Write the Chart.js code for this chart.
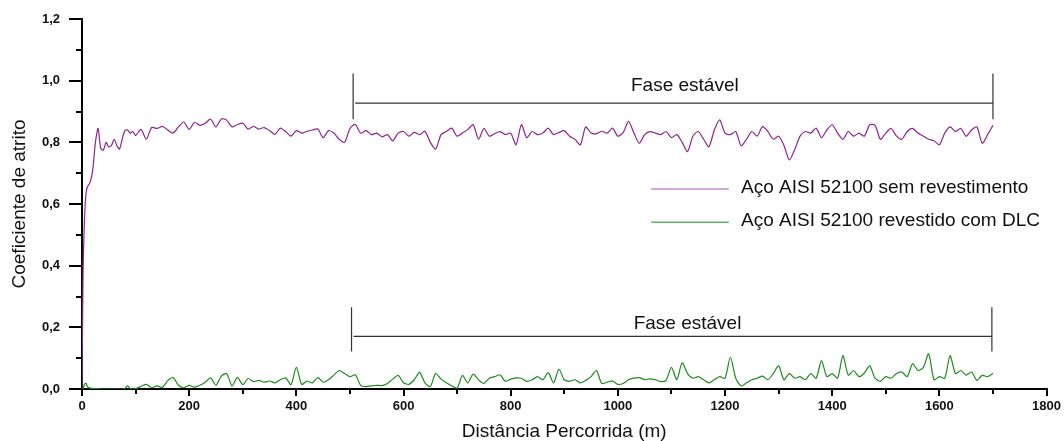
<!DOCTYPE html>
<html><head><meta charset="utf-8">
<script src="https://cdn.jsdelivr.net/npm/chart.js@4.4.1/dist/chart.umd.min.js"></script>
<style>html,body{margin:0;padding:0;background:#fff;}#wrap{width:1064px;height:441px;position:relative;}</style>
</head><body><div id="wrap"><canvas id="c"></canvas></div>
<script>
// Distance (m)
const distance = [0,2,4,6,8,10,15,20,25,30,35,40,45,50,55,60,65,70,75,80,85,90,95,100,
110,120,130,140,150,160,170,180,190,200,210,220,230,240,250,260,270,280,290,300,
310,320,330,340,350,360,370,380,390,400,410,420,430,440,450,460,470,480,490,500,
510,520,530,540,550,560,570,580,590,600,610,620,630,640,650,660,670,680,690,700,
710,720,730,740,750,760,770,780,790,800,810,820,830,840,850,860,870,880,890,900,
910,920,930,940,950,960,970,980,990,1000,1010,1020,1030,1040,1050,1060,1070,1080,1090,1100,
1110,1120,1130,1140,1150,1160,1170,1180,1190,1200,1210,1220,1230,1240,1250,1260,1270,1280,1290,1300,
1310,1320,1330,1340,1350,1360,1370,1380,1390,1400,1410,1420,1430,1440,1450,1460,1470,1480,1490,1500,
1510,1520,1530,1540,1550,1560,1570,1580,1590,1600,1610,1620,1630,1640,1650,1660,1670,1680,1690,1700];

// Coefficient of friction, uncoated AISI 52100
const cofUncoated = [0.0,0.38,0.52,0.60,0.64,0.655,0.67,0.71,0.80,0.845,0.78,0.775,0.80,0.785,0.79,0.81,0.79,0.778,0.81,0.838,0.84,0.83,0.835,0.822,
0.842,0.81,0.848,0.845,0.852,0.84,0.83,0.85,0.866,0.842,0.865,0.855,0.862,0.875,0.85,0.876,0.872,0.85,0.858,0.862,
0.843,0.852,0.843,0.848,0.838,0.826,0.846,0.835,0.82,0.838,0.83,0.836,0.84,0.843,0.815,0.838,0.83,0.81,0.80,0.845,
0.858,0.83,0.838,0.825,0.83,0.818,0.825,0.805,0.83,0.835,0.82,0.832,0.825,0.836,0.80,0.778,0.825,0.835,0.846,0.82,
0.83,0.842,0.857,0.81,0.845,0.82,0.828,0.835,0.825,0.83,0.792,0.857,0.815,0.835,0.825,0.83,0.846,0.825,0.832,0.838,
0.82,0.81,0.792,0.85,0.83,0.828,0.836,0.83,0.846,0.82,0.832,0.868,0.83,0.797,0.825,0.835,0.83,0.825,0.835,0.815,
0.825,0.80,0.77,0.82,0.835,0.81,0.786,0.84,0.873,0.83,0.825,0.835,0.789,0.81,0.835,0.82,0.851,0.835,0.81,0.82,
0.79,0.743,0.776,0.82,0.835,0.83,0.846,0.815,0.84,0.857,0.83,0.81,0.835,0.82,0.83,0.82,0.857,0.855,0.81,0.83,
0.845,0.82,0.81,0.835,0.845,0.83,0.82,0.81,0.805,0.792,0.83,0.85,0.835,0.845,0.82,0.84,0.85,0.797,0.825,0.855];

// Coefficient of friction, DLC-coated AISI 52100
const cofDLC = [0.0,0.0,0.012,0.018,0.018,0.008,0.003,0.002,0.001,0.001,0.0,0.0,0.0,0.0,0.0,0.0,0.0,0.0,0.0,0.002,0.011,0.002,0.0,0.001,
0.008,0.015,0.004,0.01,0.005,0.027,0.037,0.012,0.004,0.012,0.006,0.012,0.022,0.036,0.012,0.042,0.05,0.01,0.038,0.014,
0.034,0.024,0.028,0.022,0.026,0.02,0.03,0.036,0.014,0.07,0.015,0.026,0.02,0.037,0.022,0.03,0.045,0.06,0.05,0.04,
0.046,0.012,0.008,0.01,0.012,0.011,0.018,0.032,0.044,0.02,0.015,0.03,0.054,0.02,0.008,0.05,0.032,0.02,0.01,0.003,
0.044,0.02,0.048,0.03,0.018,0.035,0.04,0.046,0.025,0.032,0.036,0.035,0.025,0.03,0.04,0.03,0.053,0.02,0.064,0.03,
0.025,0.03,0.02,0.028,0.04,0.06,0.018,0.022,0.026,0.015,0.018,0.03,0.035,0.037,0.03,0.033,0.03,0.024,0.028,0.07,
0.03,0.085,0.05,0.035,0.04,0.03,0.02,0.03,0.04,0.035,0.103,0.035,0.01,0.02,0.03,0.035,0.042,0.03,0.05,0.075,
0.03,0.05,0.035,0.04,0.03,0.05,0.035,0.092,0.04,0.05,0.035,0.108,0.045,0.06,0.04,0.052,0.075,0.035,0.025,0.04,
0.035,0.05,0.055,0.04,0.082,0.06,0.07,0.114,0.03,0.04,0.035,0.108,0.05,0.06,0.045,0.055,0.028,0.044,0.04,0.05];

const seriesLabels = ['Aço AISI 52100 sem revestimento', 'Aço AISI 52100 revestido com DLC'];
const xMinorTicks = [100,300,500,700,900,1100,1300,1500,1700];
const yMinorTicks = [0.1,0.3,0.5,0.7,0.9,1.1];
const phaseLabel = 'Fase estável';

const brackets = [
  {from:506, to:1700, top:1.023, bottom:0.875, bar:0.927, textX:1125, textY:0.982},
  {from:503, to:1698, top:0.265, bottom:0.122, bar:0.171, textX:1130, textY:0.212}
];
const legendPos = {x0:1062, x1:1207, xt:1230, y:[0.649, 0.541]};

const lineColors = ['#8e248e', '#1e8a1e'];
const legendColors = ['#c48ac8', '#5cb85c'];

const FONT = '"Liberation Sans", Arial, sans-serif';

const overlay = {
  id:'overlay',
  afterDraw(chart){
    const {ctx, scales:{x, y}, chartArea:ca} = chart;
    ctx.save();
    // minor ticks
    ctx.strokeStyle = '#000'; ctx.lineWidth = 2;
    yMinorTicks.forEach(v => { const py = Math.round(y.getPixelForValue(v));
      ctx.beginPath(); ctx.moveTo(ca.left - 6, py); ctx.lineTo(ca.left, py); ctx.stroke(); });
    xMinorTicks.forEach(v => { const px = Math.round(x.getPixelForValue(v));
      ctx.beginPath(); ctx.moveTo(px, ca.bottom); ctx.lineTo(px, ca.bottom + 5); ctx.stroke(); });
    // brackets
    ctx.strokeStyle = '#333'; ctx.lineWidth = 1.2;
    brackets.forEach(b => {
      const xl = x.getPixelForValue(b.from), xr = x.getPixelForValue(b.to);
      const yt = y.getPixelForValue(b.top), yb = y.getPixelForValue(b.bottom), yh = y.getPixelForValue(b.bar);
      ctx.beginPath();
      ctx.moveTo(xl, yt); ctx.lineTo(xl, yb);
      ctx.moveTo(xr, yt); ctx.lineTo(xr, yb);
      ctx.moveTo(xl + 2, yh); ctx.lineTo(xr, yh);
      ctx.stroke();
      ctx.fillStyle = '#111'; ctx.font = '19px ' + FONT; ctx.textAlign = 'center'; ctx.textBaseline = 'middle';
      ctx.fillText(phaseLabel, x.getPixelForValue(b.textX), y.getPixelForValue(b.textY));
    });
    // legend
    seriesLabels.forEach((lab, i) => {
      const py = y.getPixelForValue(legendPos.y[i]);
      ctx.strokeStyle = legendColors[i]; ctx.lineWidth = 1.5;
      ctx.beginPath(); ctx.moveTo(x.getPixelForValue(legendPos.x0), py); ctx.lineTo(x.getPixelForValue(legendPos.x1), py); ctx.stroke();
      ctx.fillStyle = '#111'; ctx.font = '19px ' + FONT; ctx.textAlign = 'left'; ctx.textBaseline = 'middle';
      ctx.fillText(lab, x.getPixelForValue(legendPos.xt), py - 1);
    });
    ctx.restore();
  }
};

const tickFont = {family: FONT, size: 13, weight: 'bold'};

new Chart(document.getElementById('c'), {
  type: 'line',
  data: {
    datasets: [
      {label: seriesLabels[0], data: distance.map((d,i)=>({x:d, y:cofUncoated[i]})), borderColor: lineColors[0], borderWidth: 1.2, pointRadius: 0, tension: 0.25, fill:false},
      {label: seriesLabels[1], data: distance.map((d,i)=>({x:d, y:cofDLC[i]})), borderColor: lineColors[1], borderWidth: 1.2, pointRadius: 0, tension: 0.25, fill:false}
    ]
  },
  options: {
    responsive: true, maintainAspectRatio: false, animation: false,
    layout: {padding: {top: 19, right: 16, left: 0, bottom: 0}},
    plugins: {legend: {display: false}, tooltip: {enabled: false}},
    scales: {
      x: {
        type: 'linear', min: 0, max: 1800,
        border: {display: true, color: '#000', width: 2},
        grid: {display: true, drawOnChartArea: false, drawTicks: true, tickLength: 7, color: '#000', lineWidth: 2},
        ticks: {stepSize: 200, color: '#111', font: tickFont, padding: 3, maxRotation: 0, autoSkip: false, callback: v => String(v)},
        title: {display: true, text: 'Distância Percorrida (m)', color: '#111', font: {family: FONT, size: 19, lineHeight: 1}, padding: {top: 0, bottom: 0}},
        afterFit: s => { s.height = 52; }
      },
      y: {
        type: 'linear', min: 0, max: 1.2,
        border: {display: true, color: '#000', width: 2},
        grid: {display: true, drawOnChartArea: false, drawTicks: true, tickLength: 13, color: '#000', lineWidth: 2},
        ticks: {stepSize: 0.2, color: '#111', font: tickFont, padding: 9, callback: v => v.toFixed(1).replace('.', ',')},
        title: {display: true, text: 'Coeficiente de atrito', color: '#111', font: {family: FONT, size: 19, lineHeight: 1}, padding: {top: 10, bottom: 0}},
        afterFit: s => { s.width = 82; }
      }
    }
  },
  plugins: [overlay]
});
</script>
</body></html>
